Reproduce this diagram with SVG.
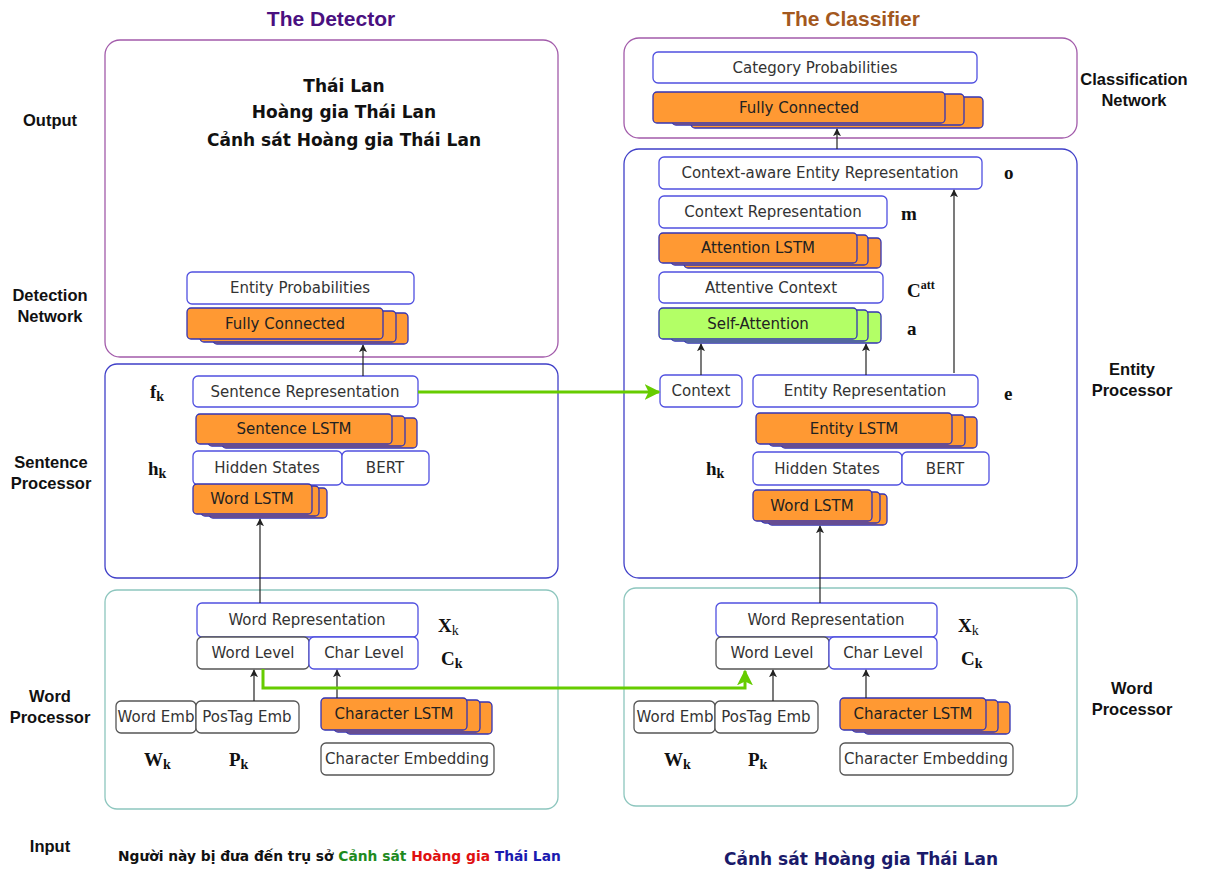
<svg xmlns="http://www.w3.org/2000/svg" width="1212" height="871" viewBox="0 0 1212 871">
<defs>
<style>
.cont{fill:none;stroke-width:1.3}
.pur{stroke:#A25BAA}
.blu{stroke:#3F3FC8}
.teal{stroke:#8DC6BE}
.box{fill:#fff;stroke:#5050E0;stroke-width:1.3}
.gbox{fill:#fff;stroke:#555;stroke-width:1.3}
.or{fill:#FF9933;stroke:#3434B4;stroke-width:1.3}
.gr{fill:#B3FF66;stroke:#3434B4;stroke-width:1.3}
.t{font-family:"DejaVu Sans",Verdana,sans-serif;font-size:15px;fill:#333;text-anchor:middle}
.tb{font-family:"DejaVu Sans",Verdana,sans-serif;font-size:15px;fill:#222;text-anchor:middle}
.lab{font-family:"Liberation Sans",Arial,sans-serif;font-weight:bold;font-size:16.5px;fill:#111;text-anchor:middle}
.title{font-family:"Liberation Sans",Arial,sans-serif;font-weight:bold;font-size:21px;text-anchor:middle}
.big{font-family:"DejaVu Sans",Verdana,sans-serif;font-weight:bold;font-size:17px;text-anchor:middle}
.m{font-family:"Liberation Serif","Times New Roman",serif;font-weight:bold;font-size:19px;fill:#111}
.sub{font-size:14px}
.arr{fill:none;stroke:#222;stroke-width:1.2;marker-end:url(#ah)}
.garr{fill:none;stroke:#66CC00;stroke-width:3;marker-end:url(#gh)}
</style>
<marker id="ah" viewBox="0 0 10 10" refX="9" refY="5" markerWidth="8" markerHeight="8" markerUnits="userSpaceOnUse" orient="auto">
<path d="M0,0 L10,5 L0,10 L2.5,5 z" fill="#222"/>
</marker>
<marker id="gh" viewBox="0 0 10 10" refX="9" refY="5" markerWidth="16" markerHeight="16" markerUnits="userSpaceOnUse" orient="auto">
<path d="M0,0 L10,5 L0,10 L2.5,5 z" fill="#66CC00"/>
</marker>
</defs>
<rect width="1212" height="871" fill="#fff"/>

<g id="titles">
<text class="title" x="331" y="26" fill="#4A1080">The Detector</text>
<text class="title" x="851" y="26" fill="#A3581E">The Classifier</text>
</g>
<g id="side-labels">
<text class="lab" x="50" y="126">Output</text>
<text class="lab" x="50" y="301">Detection</text>
<text class="lab" x="50" y="322">Network</text>
<text class="lab" x="51" y="468">Sentence</text>
<text class="lab" x="51" y="489">Processor</text>
<text class="lab" x="50" y="702">Word</text>
<text class="lab" x="50" y="723">Processor</text>
<text class="lab" x="50" y="852">Input</text>
<text class="lab" x="1134" y="85">Classification</text>
<text class="lab" x="1134" y="106">Network</text>
<text class="lab" x="1132" y="375">Entity</text>
<text class="lab" x="1132" y="396">Processor</text>
<text class="lab" x="1132" y="694">Word</text>
<text class="lab" x="1132" y="715">Processor</text>
</g>

<g id="containers">
<rect class="cont pur" x="105" y="40" width="453" height="317" rx="15"/>
<rect class="cont blu" x="105" y="364" width="453" height="214" rx="12"/>
<rect class="cont teal" x="105" y="590" width="453" height="219" rx="12"/>
<rect class="cont pur" x="624" y="38" width="453" height="100" rx="15"/>
<rect class="cont blu" x="624" y="149" width="453" height="429" rx="15"/>
<rect class="cont teal" x="624" y="588" width="453" height="218" rx="12"/>
</g>

<g id="detector-output">
<text class="big" x="344" y="92" fill="#111">Thái Lan</text>
<text class="big" x="344" y="118" fill="#111">Hoàng gia Thái Lan</text>
<text class="big" x="344" y="146" fill="#111">Cảnh sát Hoàng gia Thái Lan</text>
</g>

<g id="entity-probabilities">
<rect class="box" x="187" y="272" width="227" height="32" rx="5"/>
<text class="t" x="300" y="293">Entity Probabilities</text>
</g>
<g id="det-fully-connected">
<rect class="or" x="213" y="313" width="195" height="31" rx="4"/>
<rect class="or" x="200" y="311" width="196" height="31" rx="4"/>
<rect class="or" x="187" y="308" width="196" height="31" rx="4"/>
<text class="tb" x="285" y="329">Fully Connected</text>
</g>
<g id="sentence-representation">
<rect class="box" x="193" y="376" width="225" height="31" rx="5"/>
<text class="t" x="305" y="397">Sentence Representation</text>
</g>
<g id="sentence-lstm">
<rect class="or" x="222" y="418" width="195" height="30" rx="4"/>
<rect class="or" x="208" y="416" width="197" height="30" rx="4"/>
<rect class="or" x="196" y="414" width="196" height="30" rx="4"/>
<text class="tb" x="294" y="434">Sentence LSTM</text>
</g>
<g id="det-hidden-states">
<rect class="box" x="193" y="451" width="149" height="34" rx="5"/>
<text class="t" x="267" y="473">Hidden States</text>
</g>
<g id="det-bert">
<rect class="box" x="342" y="451" width="87" height="34" rx="5"/>
<text class="t" x="385" y="473">BERT</text>
</g>
<g id="det-word-lstm">
<rect class="or" x="209" y="488" width="118" height="30" rx="4"/>
<rect class="or" x="201" y="486" width="118" height="30" rx="4"/>
<rect class="or" x="193" y="484" width="119" height="30" rx="4"/>
<text class="tb" x="252" y="504">Word LSTM</text>
</g>
<g id="det-word-representation">
<rect class="box" x="197" y="603" width="221" height="34" rx="5"/>
<text class="t" x="307" y="625">Word Representation</text>
</g>
<g id="det-word-level">
<rect class="gbox" x="197" y="637" width="112" height="32" rx="5"/>
<text class="t" x="253" y="658">Word Level</text>
</g>
<g id="det-char-level">
<rect class="box" x="309" y="637" width="109" height="32" rx="5"/>
<text class="t" x="364" y="658">Char Level</text>
</g>
<g id="det-word-emb">
<rect class="gbox" x="116" y="701" width="80" height="32" rx="5"/>
<text class="t" x="156" y="722">Word Emb</text>
</g>
<g id="det-postag-emb">
<rect class="gbox" x="196" y="701" width="103" height="32" rx="5"/>
<text class="t" x="247" y="722">PosTag Emb</text>
</g>
<g id="det-char-lstm">
<rect class="or" x="346" y="702" width="146" height="32" rx="4"/>
<rect class="or" x="334" y="700" width="146" height="32" rx="4"/>
<rect class="or" x="321" y="698" width="146" height="32" rx="4"/>
<text class="tb" x="394" y="719">Character LSTM</text>
</g>
<g id="det-char-embedding">
<rect class="gbox" x="321" y="743" width="173" height="32" rx="5"/>
<text class="t" x="407" y="764">Character Embedding</text>
</g>

<g id="category-probabilities">
<rect class="box" x="653" y="52" width="324" height="31" rx="5"/>
<text class="t" x="815" y="73">Category Probabilities</text>
</g>
<g id="cls-fully-connected">
<rect class="or" x="691" y="97" width="292" height="31" rx="4"/>
<rect class="or" x="672" y="94" width="292" height="31" rx="4"/>
<rect class="or" x="653" y="92" width="292" height="31" rx="4"/>
<text class="tb" x="799" y="113">Fully Connected</text>
</g>
<g id="context-aware-entity-representation">
<rect class="box" x="659" y="157" width="323" height="32" rx="5"/>
<text class="t" x="820" y="178">Context-aware Entity Representation</text>
</g>
<g id="context-representation">
<rect class="box" x="659" y="196" width="228" height="32" rx="5"/>
<text class="t" x="773" y="217">Context Representation</text>
</g>
<g id="attention-lstm">
<rect class="or" x="684" y="238" width="197" height="30" rx="4"/>
<rect class="or" x="671" y="235" width="197" height="30" rx="4"/>
<rect class="or" x="659" y="233" width="198" height="30" rx="4"/>
<text class="tb" x="758" y="253">Attention LSTM</text>
</g>
<g id="attentive-context">
<rect class="box" x="659" y="272" width="224" height="31" rx="5"/>
<text class="t" x="771" y="293">Attentive Context</text>
</g>
<g id="self-attention">
<rect class="gr" x="684" y="312" width="197" height="31" rx="4"/>
<rect class="gr" x="671" y="310" width="197" height="31" rx="4"/>
<rect class="gr" x="659" y="308" width="198" height="31" rx="4"/>
<text class="tb" x="758" y="329">Self-Attention</text>
</g>
<g id="context">
<rect class="box" x="660" y="375" width="82" height="32" rx="5"/>
<text class="t" x="701" y="396">Context</text>
</g>
<g id="entity-representation">
<rect class="box" x="753" y="375" width="225" height="32" rx="5"/>
<text class="t" x="865" y="396">Entity Representation</text>
</g>
<g id="entity-lstm">
<rect class="or" x="781" y="417" width="196" height="31" rx="4"/>
<rect class="or" x="769" y="415" width="196" height="31" rx="4"/>
<rect class="or" x="756" y="413" width="196" height="31" rx="4"/>
<text class="tb" x="854" y="434">Entity LSTM</text>
</g>
<g id="cls-hidden-states">
<rect class="box" x="753" y="452" width="149" height="33" rx="5"/>
<text class="t" x="827" y="474">Hidden States</text>
</g>
<g id="cls-bert">
<rect class="box" x="902" y="452" width="87" height="33" rx="5"/>
<text class="t" x="945" y="474">BERT</text>
</g>
<g id="cls-word-lstm">
<rect class="or" x="768" y="494" width="119" height="31" rx="4"/>
<rect class="or" x="761" y="492" width="119" height="31" rx="4"/>
<rect class="or" x="753" y="490" width="119" height="31" rx="4"/>
<text class="tb" x="812" y="511">Word LSTM</text>
</g>
<g id="cls-word-representation">
<rect class="box" x="716" y="603" width="221" height="34" rx="5"/>
<text class="t" x="826" y="625">Word Representation</text>
</g>
<g id="cls-word-level">
<rect class="gbox" x="716" y="637" width="113" height="32" rx="5"/>
<text class="t" x="772" y="658">Word Level</text>
</g>
<g id="cls-char-level">
<rect class="box" x="829" y="637" width="108" height="32" rx="5"/>
<text class="t" x="883" y="658">Char Level</text>
</g>
<g id="cls-word-emb">
<rect class="gbox" x="634" y="701" width="81" height="32" rx="5"/>
<text class="t" x="675" y="722">Word Emb</text>
</g>
<g id="cls-postag-emb">
<rect class="gbox" x="715" y="701" width="103" height="32" rx="5"/>
<text class="t" x="766" y="722">PosTag Emb</text>
</g>
<g id="cls-char-lstm">
<rect class="or" x="864" y="702" width="146" height="32" rx="4"/>
<rect class="or" x="852" y="700" width="146" height="32" rx="4"/>
<rect class="or" x="840" y="698" width="146" height="32" rx="4"/>
<text class="tb" x="913" y="719">Character LSTM</text>
</g>
<g id="cls-char-embedding">
<rect class="gbox" x="840" y="743" width="173" height="32" rx="5"/>
<text class="t" x="926" y="764">Character Embedding</text>
</g>

<g id="symbols">
<text class="m" x="150" y="398">f<tspan class="sub" dy="3">k</tspan></text>
<text class="m" x="148" y="475">h<tspan class="sub" dy="3">k</tspan></text>
<text class="m" x="438" y="632">X<tspan class="sub" dy="3" font-weight="normal">k</tspan></text>
<text class="m" x="441" y="665" font-size="17">C<tspan class="sub" dy="3">k</tspan></text>
<text class="m" x="144" y="766">W<tspan class="sub" dy="3">k</tspan></text>
<text class="m" x="229" y="766">P<tspan class="sub" dy="3">k</tspan></text>
<text class="m" x="1004" y="179" font-size="22">o</text>
<text class="m" x="901" y="220" font-size="22">m</text>
<text class="m" x="907" y="297" font-size="18">C<tspan font-size="12" dy="-8">att</tspan></text>
<text class="m" x="907" y="335" font-size="22">a</text>
<text class="m" x="1004" y="400" font-size="22">e</text>
<text class="m" x="706" y="475">h<tspan class="sub" dy="3">k</tspan></text>
<text class="m" x="958" y="632">X<tspan class="sub" dy="3" font-weight="normal">k</tspan></text>
<text class="m" x="961" y="665" font-size="17">C<tspan class="sub" dy="3">k</tspan></text>
<text class="m" x="664" y="766">W<tspan class="sub" dy="3">k</tspan></text>
<text class="m" x="748" y="766">P<tspan class="sub" dy="3">k</tspan></text>
</g>

<g id="connectors">
<path class="arr" d="M363,376 V345"/>
<path class="arr" d="M260,603 V519"/>
<path class="arr" d="M254,701 V670"/>
<path class="arr" d="M337,698 V670"/>
<path class="arr" d="M773,701 V670"/>
<path class="arr" d="M866,698 V670"/>
<path class="arr" d="M820,603 V526"/>
<path class="arr" d="M701,375 V344"/>
<path class="arr" d="M866,375 V344"/>
<path class="arr" d="M954,373 V190"/>
<path class="arr" d="M837,149 V129"/>
<path class="garr" d="M418,392 H659"/>
<path class="garr" d="M263,669 V688 H745 V671"/>
</g>

<g id="inputs">
<text font-family="DejaVu Sans,Verdana,sans-serif" font-weight="bold" font-size="13.8" x="118" y="861" fill="#111">Người này bị đưa đến trụ sở <tspan fill="#1E8A1E">Cảnh sát</tspan> <tspan fill="#E01010">Hoàng gia</tspan> <tspan fill="#1A1AB0">Thái Lan</tspan></text>
<text class="big" x="861" y="865" fill="#1A1A6A">Cảnh sát Hoàng gia Thái Lan</text>
</g>
</svg>
